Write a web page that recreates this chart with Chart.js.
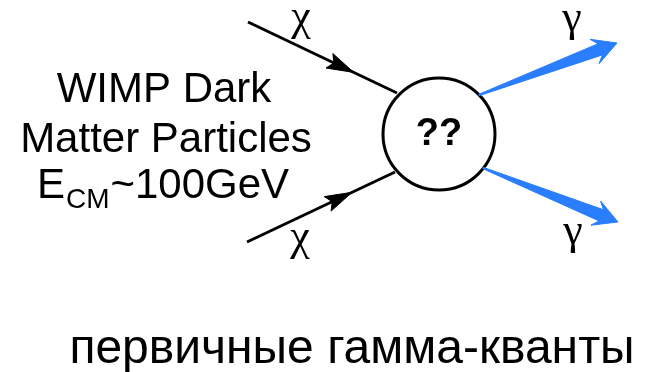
<!DOCTYPE html>
<html lang="ru">
<head>
    <meta charset="UTF-8">
    <title>WIMP annihilation</title>
    <script src="https://cdn.jsdelivr.net/npm/chart.js"></script>
    <style>
        html, body { margin: 0; padding: 0; background: #ffffff; }
        .chart-box { width: 648px; height: 372px; }
    </style>
</head>
<body>
    <div class="chart-box"><canvas id="diagram" width="648" height="372"></canvas></div>

    <script>
        // diagram coordinates, x to the right, y downwards (0..648, 0..372)
        const chiStartX = [248, 247];
        const chiStartY = [22, 242];
        const chiEndX = [397, 395];
        const chiEndY = [93, 172];
        const chiArrowAt = [0.71, 0.71];

        const gammaStartX = [479, 483];
        const gammaStartY = [95, 168];
        const gammaTipX = [617, 618];
        const gammaTipY = [43, 222];

        const vertexX = [439];
        const vertexY = [134];

        // greek labels, y is the text baseline
        const greekText = ['χ', 'χ', 'γ', 'γ'];
        const greekX = [301, 300, 572, 573];
        const greekY = [30, 250, 31, 244];

        const leftText = ['WIMP Dark', 'Matter Particles'];
        const leftX = [164, 166];
        const leftY = [102, 152];
        const energyParts = ['E', 'CM', '~100GeV'];
        const energyX = 163;
        const energyY = 198;

        const captionText = 'первичные гамма-кванты';
        const captionX = 352;
        const captionY = 363;

        const BLUE = '#2a7dfc';

        function unitVec(x0, y0, x1, y1) {
            const len = Math.hypot(x1 - x0, y1 - y0);
            return { ux: (x1 - x0) / len, uy: (y1 - y0) / len };
        }

        // incoming particle: line + arrowhead polygon
        const datasets = [];
        chiStartX.forEach((sx, i) => {
            const sy = chiStartY[i], ex = chiEndX[i], ey = chiEndY[i];
            datasets.push({
                data: [{ x: sx, y: sy }, { x: ex, y: ey }],
                borderColor: '#000', borderWidth: 3, showLine: true, pointRadius: 0
            });
            const tx = sx + (ex - sx) * chiArrowAt[i];
            const ty = sy + (ey - sy) * chiArrowAt[i];
            const { ux, uy } = unitVec(sx, sy, ex, ey);
            const bx = tx - ux * 27, by = ty - uy * 27;
            datasets.push({
                data: [
                    { x: tx, y: ty },
                    { x: bx - uy * 8, y: by + ux * 8 },
                    { x: bx + ux * 5, y: by + uy * 5 },
                    { x: bx + uy * 8, y: by - ux * 8 },
                    { x: tx, y: ty }
                ],
                borderColor: '#000', borderWidth: 1, backgroundColor: '#000',
                fill: 'shape', showLine: true, pointRadius: 0
            });
        });

        // outgoing photons: widening wedge with a barbed head
        gammaStartX.forEach((sx, i) => {
            const sy = gammaStartY[i], tx = gammaTipX[i], ty = gammaTipY[i];
            const { ux, uy } = unitVec(sx, sy, tx, ty);
            const bx = tx - ux * 18, by = ty - uy * 18;
            const wx = bx - ux * 6, wy = by - uy * 6;
            const nx = -uy, ny = ux;
            datasets.push({
                data: [
                    { x: sx + nx * 0.7, y: sy + ny * 0.7 },
                    { x: bx + nx * 6, y: by + ny * 6 },
                    { x: wx + nx * 13, y: wy + ny * 13 },
                    { x: tx, y: ty },
                    { x: wx - nx * 13, y: wy - ny * 13 },
                    { x: bx - nx * 6, y: by - ny * 6 },
                    { x: sx - nx * 0.7, y: sy - ny * 0.7 },
                    { x: sx + nx * 0.7, y: sy + ny * 0.7 }
                ],
                borderColor: BLUE, borderWidth: 1, backgroundColor: BLUE,
                fill: 'shape', showLine: true, pointRadius: 0
            });
        });

        // the interaction blob
        datasets.push({
            data: vertexX.map((x, i) => ({ x: x, y: vertexY[i] })),
            pointRadius: 56, pointHoverRadius: 56, pointBorderWidth: 3,
            pointBorderColor: '#000', pointBackgroundColor: '#fff',
            showLine: false
        });

        const textPlugin = {
            id: 'diagramText',
            afterDatasetsDraw(chart) {
                const { ctx, scales: { x, y } } = chart;
                ctx.save();
                ctx.fillStyle = '#000';

                ctx.textAlign = 'center';
                ctx.textBaseline = 'middle';
                ctx.font = 'bold 38px "Liberation Sans", Arial, sans-serif';
                ctx.fillText('??', x.getPixelForValue(vertexX[0]), y.getPixelForValue(vertexY[0] + 1));

                ctx.textBaseline = 'alphabetic';
                ctx.font = '44px "Liberation Serif", "Times New Roman", serif';
                greekText.forEach((t, i) => {
                    ctx.fillText(t, x.getPixelForValue(greekX[i]), y.getPixelForValue(greekY[i]));
                });

                ctx.font = '42px "Liberation Sans", Arial, sans-serif';
                leftText.forEach((t, i) => {
                    ctx.fillText(t, x.getPixelForValue(leftX[i]), y.getPixelForValue(leftY[i]));
                });

                // E with subscript CM
                const big = '42px "Liberation Sans", Arial, sans-serif';
                const small = '28px "Liberation Sans", Arial, sans-serif';
                ctx.font = big;
                const w0 = ctx.measureText(energyParts[0]).width;
                const w2 = ctx.measureText(energyParts[2]).width;
                ctx.font = small;
                const w1 = ctx.measureText(energyParts[1]).width + 2;
                let px = x.getPixelForValue(energyX) - (w0 + w1 + w2) / 2;
                const py = y.getPixelForValue(energyY);
                ctx.textAlign = 'left';
                ctx.font = big;
                ctx.fillText(energyParts[0], px, py);
                ctx.font = small;
                ctx.fillText(energyParts[1], px + w0 + 1, py + 10);
                ctx.font = big;
                ctx.fillText(energyParts[2], px + w0 + w1, py);

                ctx.textAlign = 'center';
                ctx.font = '48px "Liberation Sans", Arial, sans-serif';
                ctx.fillText(captionText, x.getPixelForValue(captionX), y.getPixelForValue(captionY));
                ctx.restore();
            }
        };

        new Chart(document.getElementById('diagram'), {
            type: 'scatter',
            data: { datasets: datasets },
            options: {
                responsive: false,
                animation: false,
                events: [],
                layout: { padding: 0, autoPadding: false },
                elements: { line: { tension: 0 } },
                scales: {
                    x: { type: 'linear', min: 0, max: 648, display: false },
                    y: { type: 'linear', min: 0, max: 372, reverse: true, display: false }
                },
                plugins: {
                    legend: { display: false },
                    tooltip: { enabled: false }
                }
            },
            plugins: [textPlugin]
        });
    </script>
</body>
</html>
